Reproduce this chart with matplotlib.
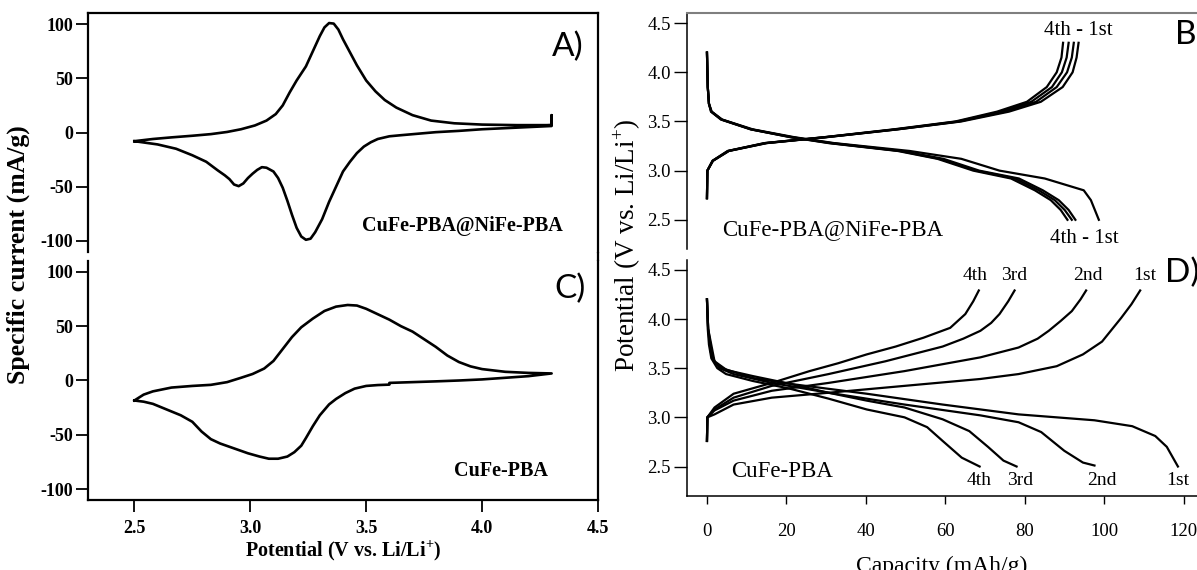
import numpy as np
import matplotlib
matplotlib.use("Agg")
import matplotlib.pyplot as plt

plt.rcParams['font.family'] = ['Liberation Serif', 'DejaVu Serif']
plt.rcParams['mathtext.fontset'] = 'custom'
plt.rcParams['mathtext.rm'] = 'Liberation Serif'
plt.rcParams['mathtext.bf'] = 'Liberation Serif:bold'
plt.rcParams['axes.unicode_minus'] = False

# CV of CuFe-PBA@NiFe-PBA (panel A), one full loop
cv_a_potential = [2.50, 2.58, 2.66, 2.75, 2.83, 2.90, 2.96, 3.02, 3.07, 3.11, 3.14, 3.17, 3.20,
                  3.24, 3.27, 3.30, 3.32, 3.34, 3.36, 3.38, 3.40, 3.43, 3.46, 3.50, 3.54, 3.58,
                  3.63, 3.70, 3.78, 3.88, 4.00, 4.15, 4.28, 4.30, 4.30, 4.30,
                  4.15, 4.00, 3.90, 3.80, 3.73, 3.65, 3.60, 3.55, 3.52, 3.49, 3.46, 3.43, 3.40,
                  3.37, 3.34, 3.31, 3.28, 3.26, 3.24, 3.22, 3.20, 3.18, 3.16, 3.14, 3.12, 3.10,
                  3.07, 3.05, 3.03, 3.01, 2.99, 2.97, 2.95, 2.93, 2.91, 2.89, 2.86, 2.81, 2.75,
                  2.68, 2.60, 2.50]
cv_a_current = [-8, -6, -4.5, -3, -1.5, 0.5, 3, 6.5, 11, 17, 25, 37, 48,
                61, 75, 89, 97, 101, 100.5, 95, 86, 74, 62, 48, 38, 30,
                23, 16, 11, 8.5, 7.3, 6.8, 6.8, 7, 16, 6,
                4.5, 3, 1.5, 0.3, -1, -2.5, -3.5, -6, -9, -13, -19, -27, -36,
                -50, -64, -80, -92, -98, -99, -96, -88, -76, -63, -51, -42, -36,
                -32.5, -32, -34.5, -38, -42, -47, -49.5, -48, -43, -39.5, -35, -27, -21,
                -15, -11, -8]

# CV of CuFe-PBA (panel C)
cv_c_potential = [2.50, 2.54, 2.58, 2.66, 2.75, 2.83, 2.90, 2.96, 3.01, 3.06, 3.10, 3.14, 3.18,
                  3.22, 3.27, 3.32, 3.37, 3.42, 3.46, 3.50, 3.55, 3.60, 3.65, 3.70, 3.75, 3.80,
                  3.85, 3.90, 3.95, 4.00, 4.10, 4.20, 4.30,
                  4.20, 4.10, 4.00, 3.90, 3.80, 3.70, 3.60, 3.60, 3.55, 3.50, 3.45, 3.41, 3.37,
                  3.34, 3.30, 3.27, 3.24, 3.22, 3.19, 3.16, 3.12, 3.08, 3.04, 2.99, 2.95, 2.91,
                  2.87, 2.83, 2.79, 2.75, 2.70, 2.66, 2.62, 2.58, 2.54, 2.50]
cv_c_current = [-18.4, -13, -10, -6.5, -5, -4, -1.5, 2.5, 6, 11, 18, 29, 40,
                49, 57, 64, 68, 69.5, 69, 66, 61, 56, 50, 45, 38, 31,
                23, 17, 13, 10.5, 8, 7, 6.5,
                4, 2.5, 1, 0, -0.8, -1.5, -2.2, -3.8, -4.2, -5, -7.5, -11.6, -17,
                -22, -32, -42, -53, -60, -66, -70, -72, -72, -70, -67, -64, -61,
                -58, -54, -47, -38, -32, -28.5, -25, -21.5, -19.5, -18.4]

# charge / discharge of CuFe-PBA@NiFe-PBA (panel B), cycles 1-4
b_charge_v = [2.72, 3.0, 3.1, 3.2, 3.28, 3.34, 3.42, 3.5, 3.6, 3.7, 3.85, 4.0, 4.15, 4.3]
b_charge_cap = {
    '1st': [0, 0.1, 1.5, 5.5, 15, 30, 48, 64, 76, 84, 89.5, 92, 93, 93.5],
    '2nd': [0, 0.1, 1.5, 5.5, 15, 30, 48, 63.5, 75, 82.8, 88, 90.6, 91.8, 92.3],
    '3rd': [0, 0.1, 1.4, 5.3, 14.5, 29.5, 47.5, 63, 74, 81.6, 86.8, 89.3, 90.5, 91.0],
    '4th': [0, 0.1, 1.4, 5.2, 14.5, 29.5, 47, 62.5, 73, 80.5, 85.5, 88, 89.2, 89.6],
}
b_dis_v = [4.2, 3.85, 3.68, 3.6, 3.52, 3.42, 3.34, 3.28, 3.2, 3.12, 3.0, 2.92, 2.8, 2.7, 2.6, 2.5]
b_dis_cap = {
    '1st': [0, 0.2, 0.5, 1.2, 3.8, 11.5, 22, 32, 51, 64, 73.6, 85, 94.8, 96.6, 97.6, 98.6],
    '2nd': [0, 0.2, 0.5, 1.1, 3.7, 11.2, 21.5, 31.5, 49, 59.5, 68.5, 78.5, 84.5, 88.5, 91, 92.7],
    '3rd': [0, 0.2, 0.5, 1.1, 3.6, 11, 21.2, 31, 48.5, 58.5, 67.8, 77.5, 83.5, 87.5, 90, 91.8],
    '4th': [0, 0.2, 0.5, 1.0, 3.5, 11, 21, 30.6, 48, 58, 67, 76.5, 82.5, 86.5, 89, 90.7],
}

# charge / discharge of CuFe-PBA (panel D), cycles 1-4
d_charge = {
    '4th': ([2.76, 3.0, 3.1, 3.24, 3.35, 3.47, 3.55, 3.64, 3.72, 3.81, 3.91, 4.05, 4.18, 4.29],
            [0, 0.1, 1.9, 6.7, 16.3, 25.8, 33, 40.2, 47.5, 54.5, 61.2, 65, 67, 68.4]),
    '3rd': ([2.76, 3.0, 3.08, 3.2, 3.32, 3.44, 3.57, 3.72, 3.80, 3.88, 3.96, 4.05, 4.18, 4.29],
            [0, 0.1, 1.9, 6.7, 16.3, 30.6, 44.9, 59.3, 64.5, 68.8, 71.5, 73.6, 75.8, 77.4]),
    '2nd': ([2.76, 3.0, 3.07, 3.17, 3.27, 3.35, 3.47, 3.61, 3.71, 3.80, 3.88, 3.98, 4.08, 4.2, 4.29],
            [0, 0.1, 1.9, 6.7, 16.3, 30.6, 49.7, 68.8, 78.4, 83.2, 86, 89, 91.8, 94, 95.4]),
    '1st': ([2.76, 3.0, 3.03, 3.13, 3.2, 3.25, 3.32, 3.39, 3.44, 3.52, 3.64, 3.77, 3.9, 4.01, 4.15, 4.29],
            [0, 0.1, 1.9, 6.7, 16.3, 30.6, 49.7, 68.8, 78.4, 88, 94.6, 99.4, 102, 104.2, 106.8, 109]),
}
d_discharge = {
    '4th': ([4.2, 3.9, 3.74, 3.6, 3.5, 3.44, 3.37, 3.29, 3.19, 3.08, 3.0, 2.9, 2.76, 2.59, 2.5],
            [0, 0.2, 0.5, 1.1, 2.6, 4.8, 11.5, 21, 30.6, 40.2, 49.7, 55.4, 59.3, 64.1, 68.6]),
    '3rd': ([4.2, 3.9, 3.67, 3.56, 3.5, 3.4, 3.34, 3.25, 3.17, 3.1, 2.98, 2.86, 2.7, 2.56, 2.5],
            [0, 0.3, 0.9, 2.0, 3.8, 11.5, 21, 30.6, 40.2, 49.7, 59.3, 66, 70.7, 74.6, 77.9]),
    '2nd': ([4.2, 3.9, 3.6, 3.5, 3.44, 3.35, 3.25, 3.13, 3.02, 2.95, 2.85, 2.66, 2.54, 2.51],
            [0, 0.3, 1.4, 3.2, 6.7, 16.3, 30.6, 49.7, 68.8, 78.4, 84.1, 89.9, 94.6, 97.5]),
    '1st': ([4.2, 3.9, 3.57, 3.48, 3.42, 3.34, 3.24, 3.13, 3.03, 2.97, 2.91, 2.81, 2.7, 2.5],
            [0, 0.3, 1.9, 5, 11.5, 21, 40.2, 59.3, 78.4, 97.5, 107, 112.8, 115.7, 118.5]),
}
d_top_labels = {'4th': 67.4, '3rd': 77.4, '2nd': 95.9, '1st': 110.2}
d_bottom_labels = {'4th': 68.5, '3rd': 78.7, '2nd': 99.4, '1st': 118.5}

cv_ticks_x = [2.5, 3.0, 3.5, 4.0, 4.5]
cv_ticks_y = [-100, -50, 0, 50, 100]
gcd_ticks_x = [0, 20, 40, 60, 80, 100, 120]
gcd_ticks_y = [2.5, 3.0, 3.5, 4.0, 4.5]

W, H = 1197, 570
fig = plt.figure(figsize=(W / 100, H / 100), dpi=100)


def box(x0, y0, x1, y1):
    # pixel box (top-left origin) -> figure fraction rect
    return [x0 / W, 1 - y1 / H, (x1 - x0) / W, (y1 - y0) / H]


ax_a = fig.add_axes(box(88, 13.3, 598, 251.7))
ax_c = fig.add_axes(box(88, 261, 598, 500))
ax_b = fig.add_axes(box(686.7, 13.3, 1197, 249.3))
ax_d = fig.add_axes(box(686.7, 260, 1197, 496))

lw_cv = 1.9
lw_gcd = 1.6
sans = ['Lato', 'DejaVu Sans']

# --- CV panels ---
ax_a.plot(cv_a_potential, cv_a_current, color='black', lw=lw_cv, solid_joinstyle='round')
ax_c.plot(cv_c_potential, cv_c_current, color='black', lw=lw_cv, solid_joinstyle='round')

for ax in (ax_a, ax_c):
    ax.set_xlim(2.3, 4.5)
    ax.set_ylim(-110, 110)
    ax.set_yticks(cv_ticks_y)
    ax.set_xticks(cv_ticks_x)
    for s in ax.spines.values():
        s.set_linewidth(1.6)
    ax.tick_params(direction='out', length=8.5, width=1.3, labelsize=13, pad=2)
    for lab in ax.get_yticklabels() + ax.get_xticklabels():
        lab.set_fontweight('bold')

ax_a.spines['bottom'].set_visible(False)
ax_a.tick_params(axis='x', bottom=False, labelbottom=False)
ax_c.spines['top'].set_visible(False)
ax_c.tick_params(axis='x', pad=6)
# close the right frame across the gap between A and C
ax_c.plot([1, 1], [1, 1 + 9.3 / 239], transform=ax_c.transAxes, color='black',
          lw=1.6, clip_on=False, solid_capstyle='butt')

ax_a.text(3.48, -86, 'CuFe-PBA@NiFe-PBA', fontsize=14.5, fontweight='bold', va='center')
ax_c.text(3.88, -83, 'CuFe-PBA', fontsize=14.5, fontweight='bold', va='center')
ax_a.text(4.37, 79, 'A)', family=sans, fontsize=24, ha='center', va='center')
ax_c.text(4.38, 84, 'C)', family=sans, fontsize=24, ha='center', va='center')

ax_c.set_xlabel(r'Potential (V vs. Li/Li$^{\mathbf{+}}$)', fontsize=14.5, fontweight='bold',
                labelpad=1)
fig.text(18 / W, 1 - 255 / H, 'Specific current (mA/g)', fontsize=18.5, fontweight='bold',
         rotation=90, ha='center', va='center')

# --- charge/discharge panels ---
for cyc in ['1st', '2nd', '3rd', '4th']:
    ax_b.plot(b_charge_cap[cyc], b_charge_v, color='black', lw=lw_gcd, solid_joinstyle='round')
    ax_b.plot(b_dis_cap[cyc], b_dis_v, color='black', lw=lw_gcd, solid_joinstyle='round')
    v, c = d_charge[cyc]
    ax_d.plot(c, v, color='black', lw=lw_gcd, solid_joinstyle='round')
    v, c = d_discharge[cyc]
    ax_d.plot(c, v, color='black', lw=lw_gcd, solid_joinstyle='round')

for ax in (ax_b, ax_d):
    ax.set_xlim(-5.1, 123.3)
    ax.set_ylim(2.2, 4.6)
    ax.set_yticks(gcd_ticks_y)
    ax.set_yticklabels(['%.1f' % t for t in gcd_ticks_y])
    ax.spines['right'].set_visible(False)
    for s in ax.spines.values():
        s.set_linewidth(1.1)
    ax.tick_params(axis='y', direction='out', length=9.5, width=1.0, labelsize=13.5, pad=2)

ax_b.spines['bottom'].set_visible(False)
ax_b.spines['top'].set_color('#7f7f7f')
ax_b.spines['top'].set_linewidth(1.5)
ax_b.tick_params(axis='x', bottom=False, labelbottom=False)
ax_d.spines['top'].set_visible(False)
ax_d.set_xticks(gcd_ticks_x)
ax_d.tick_params(axis='x', direction='out', length=5.5, width=1.0, labelsize=13.5, pad=14)

ax_b.text(93.5, 4.43, '4th - 1st', fontsize=15, ha='center', va='center')
ax_b.text(95, 2.31, '4th - 1st', fontsize=15, ha='center', va='center')
ax_b.text(3.8, 2.40, 'CuFe-PBA@NiFe-PBA', fontsize=16.5, va='center')
ax_b.text(117.7, 4.38, 'B)', family=sans, fontsize=24, va='center')

for cyc, x in d_top_labels.items():
    ax_d.text(x, 4.44, cyc, fontsize=14, ha='center', va='center')
for cyc, x in d_bottom_labels.items():
    ax_d.text(x, 2.36, cyc, fontsize=14, ha='center', va='center')
ax_d.text(6.2, 2.45, 'CuFe-PBA', fontsize=16.5, va='center')
ax_d.text(115.2, 4.47, 'D)', family=sans, fontsize=24, va='center')

ax_d.set_xlabel('Capacity (mAh/g)', fontsize=17, labelpad=11)
fig.text(627 / W, 1 - 245 / H, r'Potential (V vs. Li/Li$^{+}$)', fontsize=19.5,
         rotation=90, ha='center', va='center')

fig.savefig('out.png', dpi=100)
